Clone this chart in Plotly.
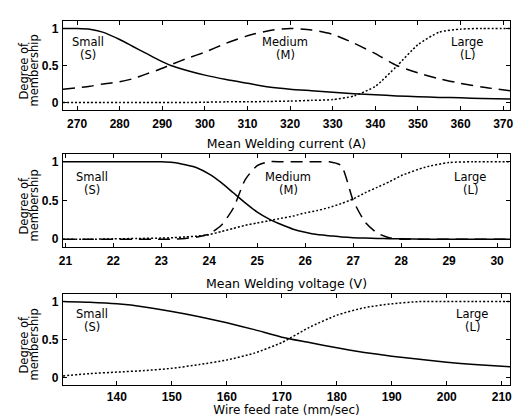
import plotly.graph_objects as go

# ---- Panel 1: Mean welding current (A)
cur_x = [266.7, 270, 273, 276, 280, 283, 286, 289, 292, 296, 300, 305, 310, 315, 320, 325, 330, 335, 340, 345, 350, 355, 360, 365, 371.6]
cur_small = [1.0, 1.0, 0.99, 0.95, 0.85, 0.76, 0.67, 0.58, 0.5, 0.43, 0.37, 0.31, 0.26, 0.21, 0.18, 0.16, 0.14, 0.12, 0.105, 0.09, 0.08, 0.07, 0.065, 0.055, 0.05]
cur_medium = [0.18, 0.2, 0.22, 0.25, 0.28, 0.32, 0.38, 0.44, 0.51, 0.6, 0.68, 0.8, 0.9, 0.97, 1.0, 0.98, 0.92, 0.8, 0.66, 0.5, 0.4, 0.32, 0.26, 0.21, 0.16]
cur_large = [0.0, 0.0, 0.0, 0.0, 0.0, 0.0, 0.0, 0.0, 0.0, 0.0, 0.005, 0.01, 0.01, 0.015, 0.02, 0.03, 0.04, 0.09, 0.22, 0.49, 0.78, 0.95, 0.99, 1.0, 1.0]

# ---- Panel 2: Mean welding voltage (V)
vol_x = [20.95, 21.5, 22, 22.5, 23, 23.25, 23.5, 23.75, 24, 24.25, 24.5, 24.75, 25, 25.25, 25.5, 25.75, 26, 26.25, 26.5, 26.75, 27, 27.25, 27.5, 27.75, 28, 28.5, 29, 29.5, 30.27]
vol_small = [1.0, 1.0, 1.0, 1.0, 1.0, 0.99, 0.96, 0.92, 0.84, 0.73, 0.6, 0.47, 0.35, 0.26, 0.19, 0.13, 0.09, 0.06, 0.045, 0.03, 0.02, 0.015, 0.01, 0.008, 0.005, 0.0, 0.0, 0.0, 0.0]
vol_medium = [0.0, 0.0, 0.0, 0.0, 0.0, 0.0, 0.01, 0.03, 0.07, 0.18, 0.4, 0.77, 0.95, 1.0, 1.0, 1.0, 1.0, 1.0, 1.0, 0.95, 0.5, 0.22, 0.08, 0.02, 0.0, 0.0, 0.0, 0.0, 0.0]
vol_large = [0.0, 0.0, 0.005, 0.01, 0.015, 0.02, 0.03, 0.04, 0.06, 0.1, 0.14, 0.18, 0.21, 0.24, 0.27, 0.3, 0.34, 0.37, 0.41, 0.46, 0.52, 0.6, 0.67, 0.74, 0.82, 0.93, 0.99, 1.0, 1.0]

# ---- Panel 3: Wire feed rate (mm/sec)
wfr_x = [130.2, 135, 140, 145, 150, 155, 160, 165, 170, 175, 180, 185, 190, 195, 200, 205, 211.5]
wfr_small = [1.0, 0.99, 0.97, 0.93, 0.87, 0.8, 0.72, 0.63, 0.53, 0.46, 0.39, 0.33, 0.28, 0.24, 0.2, 0.17, 0.14]
wfr_large = [0.02, 0.05, 0.07, 0.09, 0.12, 0.17, 0.23, 0.32, 0.46, 0.66, 0.82, 0.92, 0.97, 1.0, 1.0, 1.0, 1.0]

x_titles = ["Mean Welding current (A)", "Mean Welding voltage (V)", "Wire feed rate (mm/sec)"]
x_ranges = [[266.7, 371.6], [20.95, 30.27], [130.2, 211.5]]
x_ticks = [list(range(270, 371, 10)), list(range(21, 31)), list(range(140, 211, 10))]
y_ticks = [0, 0.5, 1]
y_tick_text = ["0", "0.5", "1"]
y_title_lines = ["Degree of", "membership"]

W, H = 527, 417
x_dom = [63 / W, 510 / W]
y_doms = [[1 - 110 / H, 1 - 21 / H], [1 - 247 / H, 1 - 154 / H], [1 - 385 / H, 1 - 294 / H]]
title_standoff = [9, 12, 5]
tick_standoff = [2, 2, 0]

fig = go.Figure()
lw = 1.5
black = "#000000"

series = [
    [(cur_x, cur_small, "solid"), (cur_x, cur_medium, "dash"), (cur_x, cur_large, "dot")],
    [(vol_x, vol_small, "solid"), (vol_x, vol_medium, "dash"), (vol_x, vol_large, "dot")],
    [(wfr_x, wfr_small, "solid"), (wfr_x, wfr_large, "dot")],
]
dash_map = {"solid": "solid", "dash": "12px,7px", "dot": "2px,2px"}

for i, group in enumerate(series):
    xa = "x" if i == 0 else f"x{i+1}"
    ya = "y" if i == 0 else f"y{i+1}"
    for xs, ys, dash in group:
        fig.add_trace(go.Scatter(x=xs, y=ys, mode="lines", xaxis=xa, yaxis=ya,
                                 line=dict(color=black, width=lw, dash=dash_map[dash],
                                           shape="spline", smoothing=0.6),
                                 showlegend=False, hoverinfo="skip"))

tickfont = dict(family="Liberation Sans, Arial", size=12, color=black, weight="bold")
layout = dict(width=W, height=H, margin=dict(l=0, r=0, t=0, b=0),
              paper_bgcolor="white", plot_bgcolor="white", showlegend=False)
for i in range(3):
    xk = "xaxis" if i == 0 else f"xaxis{i+1}"
    yk = "yaxis" if i == 0 else f"yaxis{i+1}"
    ya = "y" if i == 0 else f"y{i+1}"
    xa = "x" if i == 0 else f"x{i+1}"
    title_font = dict(family="DejaVu Sans", size=12.5 if i < 2 else 12, color=black)
    layout[xk] = dict(domain=x_dom, range=x_ranges[i], anchor=ya, tickmode="array", tickvals=x_ticks[i],
                      ticks="inside", ticklen=4, tickwidth=1, tickcolor=black, mirror="ticks",
                      showline=True, linecolor=black, linewidth=1.3, showgrid=False, zeroline=False,
                      tickfont=tickfont, automargin=False, ticklabelstandoff=tick_standoff[i],
                      title=dict(text=x_titles[i], font=title_font, standoff=title_standoff[i]))
    layout[yk] = dict(domain=y_doms[i], range=[-0.1, 1.1], anchor=xa, tickmode="array", tickvals=y_ticks,
                      ticktext=y_tick_text, ticks="inside", ticklen=4, tickwidth=1, tickcolor=black, mirror="ticks",
                      showline=True, linecolor=black, linewidth=1.3, showgrid=False, zeroline=False,
                      tickfont=tickfont, automargin=False, ticklabelstandoff=1)
fig.update_layout(**layout)

# y-axis titles (two rotated lines) and curve labels
ann_font = dict(family="DejaVu Sans", size=11.5, color=black)
yt_font = dict(family="DejaVu Sans", size=11.5, color=black)
labels = [
    [("Small", "(S)", 88, 42), ("Medium", "(M)", 285, 42), ("Large", "(L)", 467, 42)],
    [("Small", "(S)", 92, 177), ("Medium", "(M)", 288, 177), ("Large", "(L)", 470, 177)],
    [("Small", "(S)", 92, 314), ("Large", "(L)", 472, 314)],
]
for i in range(3):
    top_px = (1 - y_doms[i][1]) * H
    bot_px = (1 - y_doms[i][0]) * H
    yc_px = (top_px + bot_px) / 2 + 5
    for k, line in enumerate(y_title_lines):
        fig.add_annotation(text=line, xref="paper", yref="paper", x=(23 + 10 * k) / W, y=1 - yc_px / H,
                           xanchor="center", yanchor="middle", textangle=-90, showarrow=False, font=yt_font)
    for l1, l2, px, py in labels[i]:
        fig.add_annotation(text=l1, xref="paper", yref="paper", x=px / W, y=1 - py / H,
                           xanchor="center", yanchor="middle", showarrow=False, font=ann_font)
        fig.add_annotation(text=l2, xref="paper", yref="paper", x=px / W, y=1 - (py + 13) / H,
                           xanchor="center", yanchor="middle", showarrow=False, font=ann_font)

fig.write_html("out.html", config={"displayModeBar": False},
               post_script="document.body.style.margin='0';")
